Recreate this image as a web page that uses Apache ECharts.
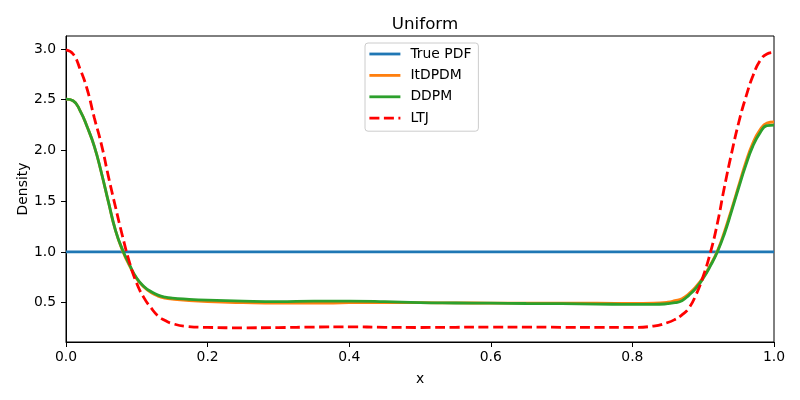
<!DOCTYPE html>
<html>
<head>
<meta charset="utf-8">
<script src="https://cdn.jsdelivr.net/npm/echarts@6/dist/echarts.min.js"></script>
<style>
  html, body { margin: 0; padding: 0; background: #fff; }
  #chart { width: 800px; height: 400px; }
</style>
</head>
<body>
<div id="chart"></div>
<script>
// x positions the curves were read at
var xs = [0, 0.01, 0.02, 0.03, 0.04, 0.05, 0.06, 0.07, 0.08, 0.09, 0.1, 0.11, 0.12, 0.13, 0.14, 0.15, 0.17, 0.2,
  0.25, 0.3, 0.35, 0.4, 0.45, 0.5, 0.55, 0.6, 0.65, 0.7, 0.75, 0.8, 0.83, 0.85, 0.86, 0.87, 0.88, 0.89, 0.9,
  0.91, 0.92, 0.93, 0.94, 0.95, 0.96, 0.97, 0.98, 0.99, 1.0];

var truePdf = [[0, 1.0], [1, 1.0]];

var itdpdm = [2.505, 2.49, 2.39, 2.23, 2.04, 1.78, 1.49, 1.21, 1.01, 0.86, 0.735, 0.655, 0.60, 0.565, 0.545, 0.535, 0.522, 0.51,
  0.50, 0.495, 0.495, 0.50, 0.502, 0.50, 0.498, 0.496, 0.495, 0.495, 0.495, 0.493, 0.495, 0.505, 0.52, 0.54, 0.59, 0.66, 0.75,
  0.87, 1.01, 1.20, 1.42, 1.65, 1.88, 2.07, 2.20, 2.27, 2.28];

var ddpm = [2.505, 2.49, 2.39, 2.23, 2.04, 1.78, 1.49, 1.21, 1.02, 0.87, 0.74, 0.66, 0.61, 0.575, 0.555, 0.545, 0.535, 0.525,
  0.515, 0.51, 0.515, 0.515, 0.51, 0.50, 0.497, 0.495, 0.492, 0.49, 0.487, 0.483, 0.483, 0.49, 0.50, 0.52, 0.575, 0.645, 0.74,
  0.86, 1.0, 1.18, 1.40, 1.63, 1.85, 2.04, 2.17, 2.245, 2.25];

var ltj = [2.99, 2.95, 2.80, 2.60, 2.32, 2.06, 1.74, 1.44, 1.15, 0.89, 0.69, 0.55, 0.45, 0.37, 0.325, 0.295, 0.267, 0.257,
  0.253, 0.255, 0.26, 0.262, 0.258, 0.256, 0.258, 0.26, 0.26, 0.258, 0.257, 0.257, 0.27, 0.305, 0.335, 0.38, 0.45, 0.58, 0.76,
  0.99, 1.28, 1.64, 1.97, 2.27, 2.52, 2.73, 2.88, 2.95, 2.965];

var yTicks = [0.5, 1.0, 1.5, 2.0, 2.5, 3.0];

function pairs(vals) {
  return xs.map(function (x, i) { return [x, vals[i]]; });
}

var font = 'DejaVu Sans';
var myChart = echarts.init(document.getElementById('chart'));

var option = {
  backgroundColor: '#fff',
  animation: false,
  title: {
    text: 'Uniform',
    left: 420,
    top: 11,
    textAlign: 'center',
    textStyle: { fontFamily: font, fontSize: 16.7, fontWeight: 'normal', color: '#000' }
  },
  legend: {
    orient: 'vertical',
    left: 365,
    top: 43,
    padding: [4, 7, 6, 3],
    itemWidth: 31,
    itemHeight: 12,
    itemGap: 7.4,
    itemStyle: { opacity: 0 }, // hide the marker dot, keep only the line
    lineStyle: { width: 2.8 },
    borderColor: '#cccccc',
    borderWidth: 1,
    borderRadius: 3,
    backgroundColor: 'rgba(255,255,255,0.8)',
    textStyle: { fontFamily: font, fontSize: 13.9, color: '#000', padding: [0, 0, 0, 5] },
    data: ['True PDF', 'ItDPDM', 'DDPM', 'LTJ']
  },
  grid: {
    left: 66,
    right: 26,
    top: 36,
    bottom: 58,
    show: true,
    borderColor: '#000',
    borderWidth: 1
  },
  xAxis: {
    type: 'value',
    min: 0,
    max: 1,
    interval: 0.2,
    name: 'x',
    nameLocation: 'middle',
    nameGap: 30,
    nameTextStyle: { fontFamily: font, fontSize: 13.9, color: '#000' },
    axisLine: { lineStyle: { color: '#000', width: 1 } },
    axisTick: { length: 5, lineStyle: { color: '#000' } },
    axisLabel: {
      fontFamily: font, fontSize: 13.9, color: '#000', margin: 8,
      formatter: function (v) { return v.toFixed(1); }
    },
    splitLine: { show: false }
  },
  yAxis: {
    type: 'value',
    min: 0.113,
    max: 3.127,
    name: 'Density',
    nameLocation: 'middle',
    nameGap: 36,
    nameMoveOverlap: false,
    nameTextStyle: { fontFamily: font, fontSize: 13.9, color: '#000' },
    axisLine: { show: true, lineStyle: { color: '#000', width: 1 } },
    axisTick: { show: true, length: 5, customValues: yTicks, lineStyle: { color: '#000' } },
    axisLabel: {
      fontFamily: font, fontSize: 13.9, color: '#000', margin: 10,
      customValues: yTicks,
      formatter: function (v) { return v.toFixed(1); }
    },
    splitLine: { show: false }
  },
  series: [
    {
      name: 'True PDF', type: 'line', symbol: 'none', color: '#1f77b4',
      lineStyle: { width: 2.8, color: '#1f77b4' },
      data: truePdf
    },
    {
      name: 'ItDPDM', type: 'line', symbol: 'none', smooth: 0.5, color: '#ff7f0e',
      lineStyle: { width: 2.8, color: '#ff7f0e' },
      data: pairs(itdpdm)
    },
    {
      name: 'DDPM', type: 'line', symbol: 'none', smooth: 0.5, color: '#2ca02c',
      lineStyle: { width: 2.8, color: '#2ca02c' },
      data: pairs(ddpm)
    },
    {
      name: 'LTJ', type: 'line', symbol: 'none', smooth: 0.5, color: '#ff0000',
      lineStyle: { width: 2.8, color: '#ff0000', type: [10, 4.5] },
      data: pairs(ltj)
    }
  ]
};

myChart.setOption(option);
</script>
</body>
</html>
